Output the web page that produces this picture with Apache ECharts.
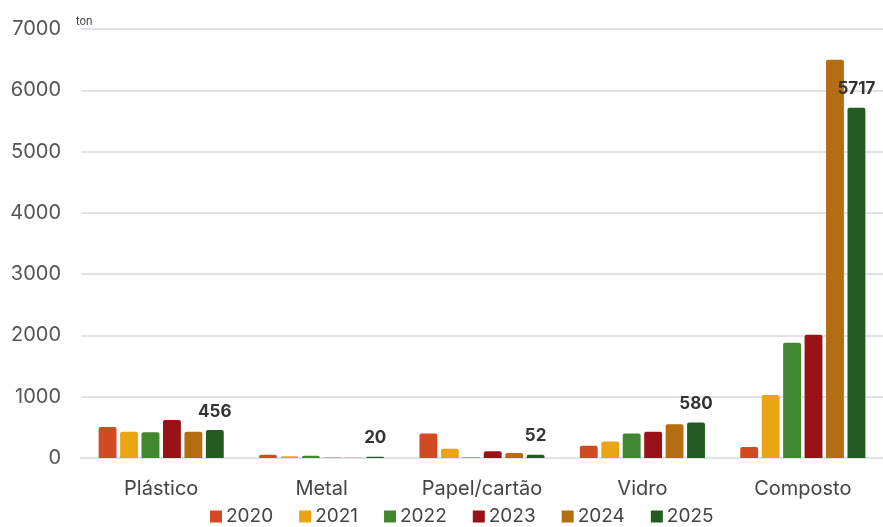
<!DOCTYPE html>
<html>
<head>
<meta charset="utf-8">
<script src="https://cdn.jsdelivr.net/npm/echarts@6/dist/echarts.min.js"></script>
<style>
  html, body { margin: 0; padding: 0; background: #fff; }
  #chart { width: 883px; height: 527px; }
</style>
</head>
<body>
<div id="chart"></div>
<script>
// Waste material categories and yearly quantities (tons)
const categories = ['Plástico', 'Metal', 'Papel/cartão', 'Vidro', 'Composto'];
const years = ['2020', '2021', '2022', '2023', '2024', '2025'];

const v2020 = [505, 55, 400, 200, 180];
const v2021 = [428, 30, 150, 270, 1030];
const v2022 = [420, 35, 10, 400, 1880];
const v2023 = [619, 5, 110, 430, 2010];
const v2024 = [428, 5, 80, 550, 6500];
const v2025 = [456, 20, 52, 580, 5717];

const yearValues = [v2020, v2021, v2022, v2023, v2024, v2025];
const colors = ['#d24a22', '#eba514', '#40872f', '#9b1118', '#b56d12', '#255b20'];

const font = "Inter, 'Liberation Sans', Arial, sans-serif";

const series = years.map((y, i) => ({
  name: y,
  type: 'bar',
  data: yearValues[i],
  itemStyle: { color: colors[i], borderRadius: [2, 2, 0, 0] },
  barGap: '20%',
  barCategoryGap: '22%',
  label: i === years.length - 1 ? {
    show: true,
    position: 'top',
    distance: 10,
    fontFamily: font,
    fontSize: 17,
    fontWeight: 'bold',
    color: '#333'
  } : { show: false }
}));

const chart = echarts.init(document.getElementById('chart'));
chart.setOption({
  animation: false,
  grid: { left: 81, right: 0, top: 29, bottom: 69, containLabel: false },
  legend: {
    data: years,
    top: 502,
    left: 205,
    icon: 'rect',
    itemWidth: 12,
    itemHeight: 12,
    itemGap: 26,
    textStyle: { fontFamily: font, fontSize: 19, color: '#444', padding: [0, 0, 0, -1] }
  },
  xAxis: {
    type: 'category',
    data: categories,
    axisTick: { show: false },
    axisLine: { lineStyle: { color: '#e2e2ea', width: 2 } },
    axisLabel: { fontFamily: font, fontSize: 20, color: '#444', margin: 21 }
  },
  yAxis: {
    type: 'value',
    min: 0,
    max: 7000,
    interval: 1000,
    name: 'ton',
    nameLocation: 'end',
    nameGap: 7,
    nameTextStyle: { fontFamily: font, fontSize: 11, color: '#444', align: 'left', verticalAlign: 'middle', padding: [0, 0, 0, -5] },
    axisLine: { show: false },
    axisTick: { show: false },
    axisLabel: { fontFamily: font, fontSize: 20, color: '#555', margin: 20, formatter: (v) => String(v) },
    splitLine: { lineStyle: { color: '#e2e2ea', width: 2 } }
  },
  series: series
});
</script>
</body>
</html>
